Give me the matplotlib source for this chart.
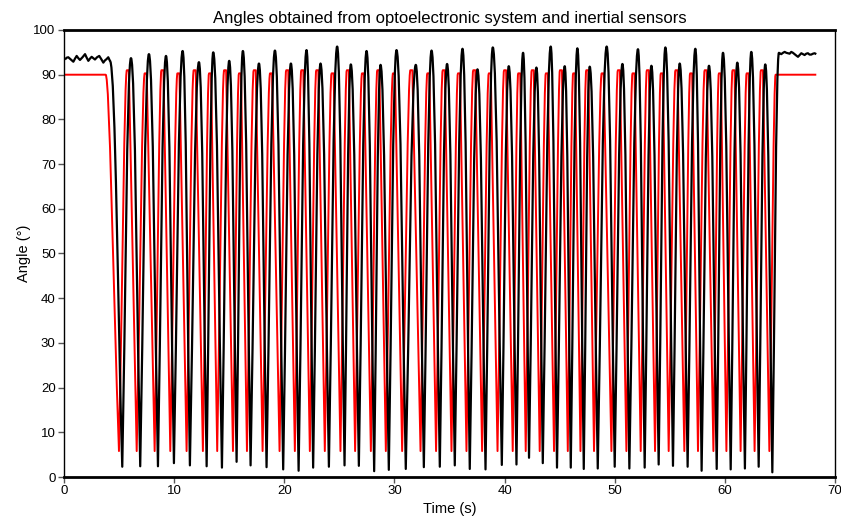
import numpy as np
import matplotlib
matplotlib.use("Agg")
import matplotlib.pyplot as plt
from matplotlib.path import Path
from matplotlib.patches import PathPatch

plt.rcParams['font.family'] = ['Liberation Sans', 'DejaVu Sans']

# ---------------- data ----------------
# Inertial sensor angle (red): plateau, 44 minima, 43 peaks, plateau
red_start_t = [0.0, 3.78]
red_start_v = [90.0, 90.0]
red_min_t = [4.99, 6.60, 8.23, 9.65, 11.13, 12.61, 13.91, 15.34, 16.61, 18.03,
             19.57, 20.96, 22.32, 23.68, 25.10, 26.43, 27.86, 29.22, 30.70, 32.37,
             33.78, 35.18, 36.54, 37.96, 39.36, 40.74, 41.92, 43.19, 44.49, 45.74,
             46.89, 48.12, 49.70, 51.06, 52.36, 53.66, 54.90, 56.32, 57.56, 58.96,
             60.14, 61.43, 62.70, 64.04]
red_min_v = [5.8] * 44
red_peak_t = [5.80, 7.42, 8.94, 10.39, 11.87, 13.26, 14.63, 15.98, 17.32, 18.80,
              20.27, 21.64, 23.00, 24.39, 25.77, 27.15, 28.54, 29.96, 31.54, 33.08,
              34.48, 35.86, 37.25, 38.66, 40.05, 41.33, 42.56, 43.84, 45.12, 46.32,
              47.51, 48.91, 50.38, 51.71, 53.01, 54.28, 55.61, 56.94, 58.26, 59.55,
              60.79, 62.07, 63.37]
red_peak_v = [91.0, 90.3, 91.0, 90.3, 91.0, 90.3, 91.0, 90.3, 91.0, 90.3,
              91.0, 91.0, 91.0, 90.3, 91.0, 90.3, 91.0, 90.3, 91.0, 90.3,
              91.0, 90.3, 91.0, 90.3, 91.0, 90.3, 91.0, 90.3, 91.0, 90.3,
              91.0, 90.3, 91.0, 90.3, 91.0, 90.3, 91.0, 90.3, 91.0, 90.3,
              91.0, 90.3, 91.0]
red_end_t = [64.61, 68.30]
red_end_v = [90.0, 90.0]

# Optoelectronic system angle (black)
blk_start_t = [0.09, 0.24, 0.39, 0.62, 0.85, 1.00, 1.15, 1.30, 1.45, 1.68, 1.91,
               2.06, 2.21, 2.36, 2.51, 2.66, 2.81, 3.00, 3.20, 3.38, 3.57, 3.72,
               3.87, 4.02, 4.17]
blk_start_v = [93.4, 93.8, 93.9, 93.4, 92.9, 93.6, 94.2, 93.7, 93.3, 93.9, 94.6,
               93.8, 93.1, 93.6, 94.0, 93.7, 93.4, 93.9, 94.2, 93.5, 92.7, 93.2,
               93.5, 93.9, 93.1]
blk_min_t = [5.29, 6.92, 8.53, 9.98, 11.43, 12.95, 14.34, 15.67, 16.94, 18.39,
             19.90, 21.30, 22.62, 24.05, 25.47, 26.77, 28.16, 29.49, 31.03, 32.67,
             34.12, 35.48, 36.84, 38.27, 39.75, 41.08, 42.22, 43.47, 44.76, 46.01,
             47.19, 48.46, 50.00, 51.33, 52.72, 53.99, 55.29, 56.62, 57.89, 59.26,
             60.53, 61.82, 63.07, 64.31]
blk_min_v = [2.3, 2.4, 2.4, 3.1, 2.6, 2.4, 2.1, 3.4, 2.6, 2.2,
             1.7, 1.4, 2.1, 2.3, 2.6, 2.5, 1.3, 1.6, 1.8, 2.2,
             2.3, 2.6, 1.8, 1.7, 2.7, 2.8, 4.3, 3.1, 2.1, 2.1,
             1.8, 1.9, 2.3, 1.9, 2.1, 2.8, 2.5, 2.3, 1.4, 1.8,
             1.7, 1.9, 2.3, 1.05]
blk_peak_t = [6.08, 7.71, 9.26, 10.77, 12.25, 13.55, 15.00, 16.24, 17.70, 19.15,
              20.60, 22.02, 23.29, 24.80, 26.04, 27.47, 28.74, 30.19, 31.94, 33.37,
              34.78, 36.18, 37.54, 38.93, 40.38, 41.68, 42.89, 44.19, 45.46, 46.61,
              47.73, 49.27, 50.70, 52.11, 53.33, 54.60, 55.90, 57.32, 58.56, 59.83,
              61.13, 62.40, 63.67]
blk_peak_v = [93.7, 94.6, 94.2, 95.3, 92.8, 95.0, 93.1, 95.3, 92.5, 95.4,
              92.5, 95.5, 92.5, 96.3, 92.3, 95.3, 92.2, 95.5, 92.2, 95.4,
              92.4, 95.8, 91.2, 96.1, 91.9, 94.9, 91.6, 96.3, 91.9, 95.9,
              91.8, 96.3, 92.4, 95.7, 92.0, 96.1, 92.5, 95.8, 92.0, 94.9,
              92.7, 95.1, 92.3]
blk_end_t = [64.91, 65.12, 65.28, 65.43, 65.58, 65.73, 65.88, 66.03, 66.18, 66.33,
             66.48, 66.64, 66.79, 66.94, 67.09, 67.24, 67.39, 67.54, 67.69, 67.84,
             68.00, 68.15, 68.30]
blk_end_v = [94.9, 94.6, 94.9, 95.1, 94.9, 94.8, 94.7, 95.1, 94.9, 94.6,
             94.3, 94.0, 94.4, 94.8, 94.6, 94.4, 94.7, 94.8, 94.5, 94.5,
             94.7, 94.8, 94.6]

xticks = [0, 10, 20, 30, 40, 50, 60, 70]
yticks = [0, 10, 20, 30, 40, 50, 60, 70, 80, 90, 100]

# ---------------- path building helpers (rendering style only) ----------------
TOP_HALF = 0.09   # half-width of red flat top


class PathBuilder:
    def __init__(self, t, v, rnd, lin):
        self.verts = [(t, v)]
        self.codes = [Path.MOVETO]
        self.rnd = rnd   # horizontal share of a ramp used to round a top
        self.lin = lin   # share of a ramp kept straight from a sharp minimum

    @property
    def last(self):
        return self.verts[-1]

    def line(self, t, v):
        self.verts.append((t, v))
        self.codes.append(Path.LINETO)

    def round_into(self, t, v):
        t0, v0 = self.last
        dt = t - t0
        c1 = (t0 + self.lin * dt, v0 + self.lin * (v - v0))
        c2 = (t - self.rnd * dt, v)
        self.verts += [c1, c2, (t, v)]
        self.codes += [Path.CURVE4] * 3

    def round_out_to(self, t, v):
        t0, v0 = self.last
        dt = t - t0
        c1 = (t0 + self.rnd * dt, v0)
        c2 = (t - self.lin * dt, v - self.lin * (v - v0))
        self.verts += [c1, c2, (t, v)]
        self.codes += [Path.CURVE4] * 3

    def path(self):
        return Path(self.verts, self.codes)


# red trace
rb = PathBuilder(red_start_t[0], red_start_v[0], 0.30, 0.45)
rb.line(red_start_t[1], red_start_v[1])
rb.round_out_to(red_min_t[0], red_min_v[0])
for i in range(len(red_peak_t)):
    rb.round_into(red_peak_t[i] - TOP_HALF, red_peak_v[i])
    rb.line(red_peak_t[i] + TOP_HALF, red_peak_v[i])
    rb.line(red_min_t[i + 1], red_min_v[i + 1])
rb.round_into(red_end_t[0], red_end_v[0])
rb.line(red_end_t[1], red_end_v[1])

# black trace
bb = PathBuilder(blk_start_t[0], blk_start_v[0], 0.45, 0.33)
for t, v in zip(blk_start_t[1:], blk_start_v[1:]):
    bb.line(t, v)
bb.round_out_to(blk_min_t[0], blk_min_v[0])
for i in range(len(blk_peak_t)):
    bb.round_into(blk_peak_t[i], blk_peak_v[i])
    bb.round_out_to(blk_min_t[i + 1], blk_min_v[i + 1])
bb.round_into(blk_end_t[0], blk_end_v[0])
for t, v in zip(blk_end_t[1:], blk_end_v[1:]):
    bb.line(t, v)

# ---------------- figure ----------------
W, H = 841, 520
fig = plt.figure(figsize=(W / 100, H / 100), dpi=100)
ax = fig.add_axes([64 / W, 1 - 477 / H, (835 - 64) / W, (477 - 30) / H])

ax.add_patch(PathPatch(rb.path(), facecolor='none', edgecolor='#ff0000',
                       lw=1.4, joinstyle='round', capstyle='butt'))
ax.add_patch(PathPatch(bb.path(), facecolor='none', edgecolor='black',
                       lw=1.6, joinstyle='round', capstyle='butt'))

ax.set_xlim(0, 70)
ax.set_ylim(0, 100)
ax.set_xticks(xticks)
ax.set_yticks(yticks)
ax.tick_params(direction='out', length=4, width=1, color='#555555',
               labelsize=9.5, pad=2)
for s in ['top', 'bottom']:
    ax.spines[s].set_linewidth(2.0)
for s in ['left', 'right']:
    ax.spines[s].set_linewidth(1.0)

ax.set_title('Angles obtained from optoelectronic system and inertial sensors',
             fontsize=12, pad=5)
ax.set_xlabel('Time (s)', fontsize=10.5, labelpad=3)
ax.set_ylabel('Angle (°)', fontsize=10.5, labelpad=2)

fig.savefig('out.png', dpi=100)
